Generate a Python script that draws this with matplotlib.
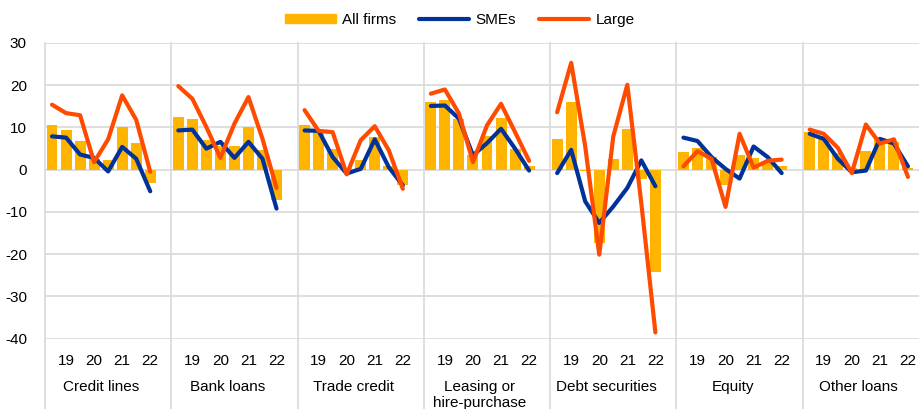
import matplotlib
matplotlib.use("Agg")
import matplotlib.pyplot as plt
import matplotlib.transforms as mtransforms
from matplotlib.patches import Patch
from matplotlib.lines import Line2D

plt.rcParams['font.family'] = ['Liberation Sans', 'DejaVu Sans']
plt.rcParams['axes.unicode_minus'] = False

# 数据：每组 8 个半年度观测值
categories = ['Credit lines', 'Bank loans', 'Trade credit', 'Leasing or\nhire-purchase',
              'Debt securities', 'Equity', 'Other loans']
year_labels = ['19', '20', '21', '22']

all_firms = [
    [10.5, 9.5, 6.7, 2.5, 2.4, 10.0, 6.4, -3.2],
    [12.6, 11.9, 7.0, 5.5, 5.7, 10.2, 4.7, -7.1],
    [10.7, 9.3, 4.8, 0.5, 2.4, 7.8, 1.0, -3.7],
    [16.0, 16.4, 11.9, 3.5, 7.9, 12.2, 5.0, 0.8],
    [7.3, 16.0, -0.2, -17.4, 2.5, 9.6, -2.2, -24.1],
    [4.2, 5.2, 3.0, -3.5, 3.4, 2.8, 2.0, 0.8],
    [8.9, 7.9, 4.0, 0.3, 4.4, 7.0, 6.5, 0.5],
]
smes = [
    [7.9, 7.6, 3.6, 2.8, -0.4, 5.4, 2.6, -5.1],
    [9.3, 9.5, 5.0, 6.6, 2.8, 6.6, 2.6, -9.2],
    [9.3, 9.2, 3.0, -0.9, 0.2, 7.2, 0.6, -3.7],
    [15.1, 15.2, 12.1, 3.4, 6.3, 9.7, 5.0, -0.2],
    [-0.8, 4.7, -7.5, -12.6, -8.7, -4.3, 2.2, -3.9],
    [7.6, 6.8, 3.0, 0.2, -2.1, 5.5, 3.0, -0.8],
    [8.5, 7.3, 2.6, -0.6, -0.2, 7.3, 6.2, 0.8],
]
large = [
    [15.4, 13.4, 12.9, 1.8, 7.2, 17.6, 11.8, -0.5],
    [19.8, 16.8, 10.1, 2.8, 10.9, 17.2, 7.3, -4.3],
    [14.1, 9.2, 8.9, -1.1, 7.0, 10.3, 4.6, -4.5],
    [18.0, 19.0, 13.3, 1.8, 10.5, 15.6, 8.9, 2.1],
    [13.6, 25.3, 5.5, -20.1, 7.9, 20.1, -8.0, -38.5],
    [0.8, 4.4, 2.6, -8.8, 8.5, 0.5, 2.1, 2.4],
    [9.5, 8.5, 5.2, -0.8, 10.7, 6.2, 7.2, -1.7],
]

C_ALL = '#FFB400'
C_SME = '#003299'
C_LARGE = '#FF4B00'
GRID = '#D9D9D9'
FS = 11

slots = 9  # 8 个柱 + 1 个空位
fig = plt.figure(figsize=(9.2, 4.09), dpi=100)
ax = fig.add_axes([45 / 920, 1 - 338.7 / 409, 884 / 920, 295.7 / 409])

for g in range(len(categories)):
    xs = [g * slots + i for i in range(len(all_firms[g]))]
    ax.bar(xs, all_firms[g], width=0.78, color=C_ALL, zorder=2)
    ax.plot(xs, smes[g], color=C_SME, lw=3, zorder=3, solid_capstyle='round')
    ax.plot(xs, large[g], color=C_LARGE, lw=3, zorder=4, solid_capstyle='round')

ax.set_xlim(-0.5, len(categories) * slots - 0.5)
ax.set_ylim(-40, 30)
ax.set_yticks(range(-40, 31, 10))
ax.yaxis.grid(True, color=GRID, lw=1.2, zorder=0)
ax.set_axisbelow(True)
for s in ax.spines.values():
    s.set_visible(False)

# 分组分隔线，延伸到图底部
for g in range(len(categories)):
    ax.axvline(g * slots - 0.5, ymin=-0.25, ymax=1, color=GRID, lw=1.2,
               clip_on=False, zorder=1)

tick_pos = [g * slots + i for g in range(len(categories)) for i in (1, 3, 5, 7)]
ax.set_xticks(tick_pos)
ax.set_xticklabels(year_labels * len(categories), fontsize=FS)
ax.tick_params(axis='x', length=0, pad=11)
ax.tick_params(axis='y', length=0, pad=13, labelsize=FS)

trans = mtransforms.blended_transform_factory(ax.transData, ax.transAxes)
for g, name in enumerate(categories):
    ax.text(g * slots + 3.5, -0.14, name, transform=trans, ha='center', va='top',
            fontsize=FS, linespacing=1.2)

handles = [Patch(color=C_ALL, label='All firms'),
           Line2D([], [], color=C_SME, lw=3, solid_capstyle='round', label='SMEs'),
           Line2D([], [], color=C_LARGE, lw=3, solid_capstyle='round', label='Large')]
fig.legend(handles=handles, loc='center', bbox_to_anchor=(0.5, 1 - 20 / 409), ncol=3,
           frameon=False, fontsize=FS, handlelength=3.3, handletextpad=0.4,
           columnspacing=1.5, handleheight=0.5)

fig.savefig('out.png', dpi=100)
